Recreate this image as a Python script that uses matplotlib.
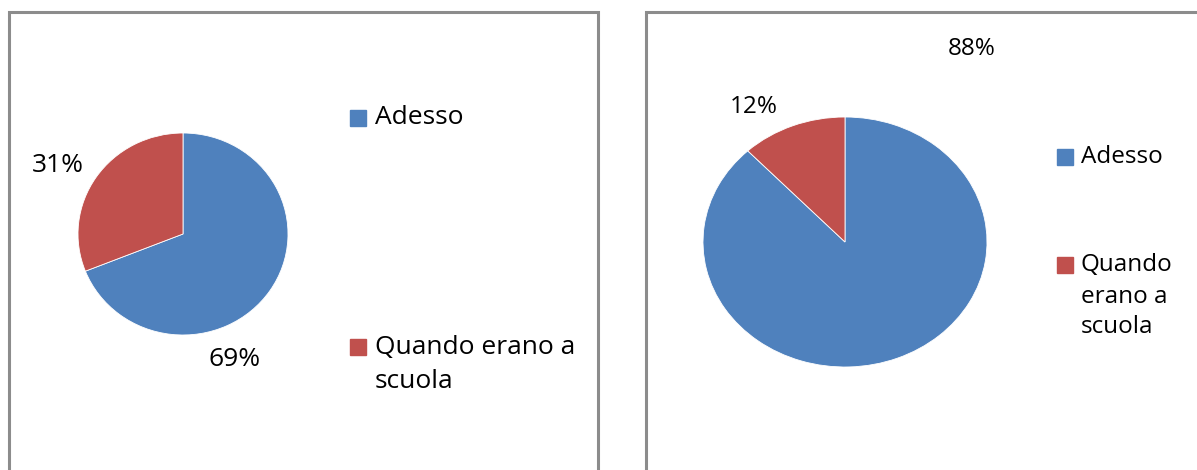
import matplotlib.pyplot as plt
from matplotlib.patches import Rectangle

# data
labels = ["Adesso", "Quando erano a scuola"]
left_values = [69, 31]
right_values = [88, 12]
left_pct = ["69%", "31%"]
right_pct = ["88%", "12%"]
colors = ["#4F81BD", "#C0504D"]

W, H = 1197, 470
plt.rcParams["font.family"] = ["Open Sans", "DejaVu Sans"]
fig = plt.figure(figsize=(W / 100, H / 100), dpi=100)


def fx(x):
    return x / W


def fy(y):
    return 1 - y / H


def pie_axes(cx, cy, rx, ry, values):
    ax = fig.add_axes([fx(cx - rx), fy(cy + ry), 2 * rx / W, 2 * ry / H])
    ax.pie(values, colors=colors, startangle=90, counterclock=False,
           wedgeprops=dict(edgecolor="white", linewidth=0.6))
    ax.set_aspect("auto")
    ax.set_xlim(-1, 1)
    ax.set_ylim(-1, 1)
    ax.axis("off")
    return ax


def legend(x_sq, x_txt, sq, rows, fs):
    # rows: list of (color, [(y, text_line), ...])
    for color, lines in rows:
        y0 = lines[0][0]
        fig.patches.append(Rectangle((fx(x_sq), fy(y0 + sq / 2)), sq / W, sq / H,
                                     transform=fig.transFigure, color=color))
        for y, t in lines:
            fig.text(fx(x_txt), fy(y), t, fontsize=fs, va="center", ha="left")


# panel borders
for x0, x1 in [(9, 598), (646, 1260)]:
    fig.patches.append(Rectangle((fx(x0), fy(H + 20)), (x1 - x0) / W, (H + 8) / H,
                                 transform=fig.transFigure, fill=False,
                                 edgecolor="#8c8c8c", linewidth=2.2))

# left panel
pie_axes(183, 234, 105, 101, left_values)
fig.text(fx(235), fy(360), left_pct[0], fontsize=19, ha="center", va="center")
fig.text(fx(58), fy(166), left_pct[1], fontsize=19, ha="center", va="center")
legend(350, 375, 16, [
    (colors[0], [(118, labels[0])]),
    (colors[1], [(347, "Quando erano a"), (382, "scuola")]),
], 19)

# right panel
pie_axes(845, 242, 142, 125, right_values)
fig.text(fx(972), fy(49), right_pct[0], fontsize=17.5, ha="center", va="center")
fig.text(fx(754), fy(107), right_pct[1], fontsize=17.5, ha="center", va="center")
legend(1057, 1081, 16, [
    (colors[0], [(157, labels[0])]),
    (colors[1], [(265, "Quando"), (297, "erano a"), (327, "scuola")]),
], 17.5)

fig.savefig("out.png", dpi=100, facecolor="white")
